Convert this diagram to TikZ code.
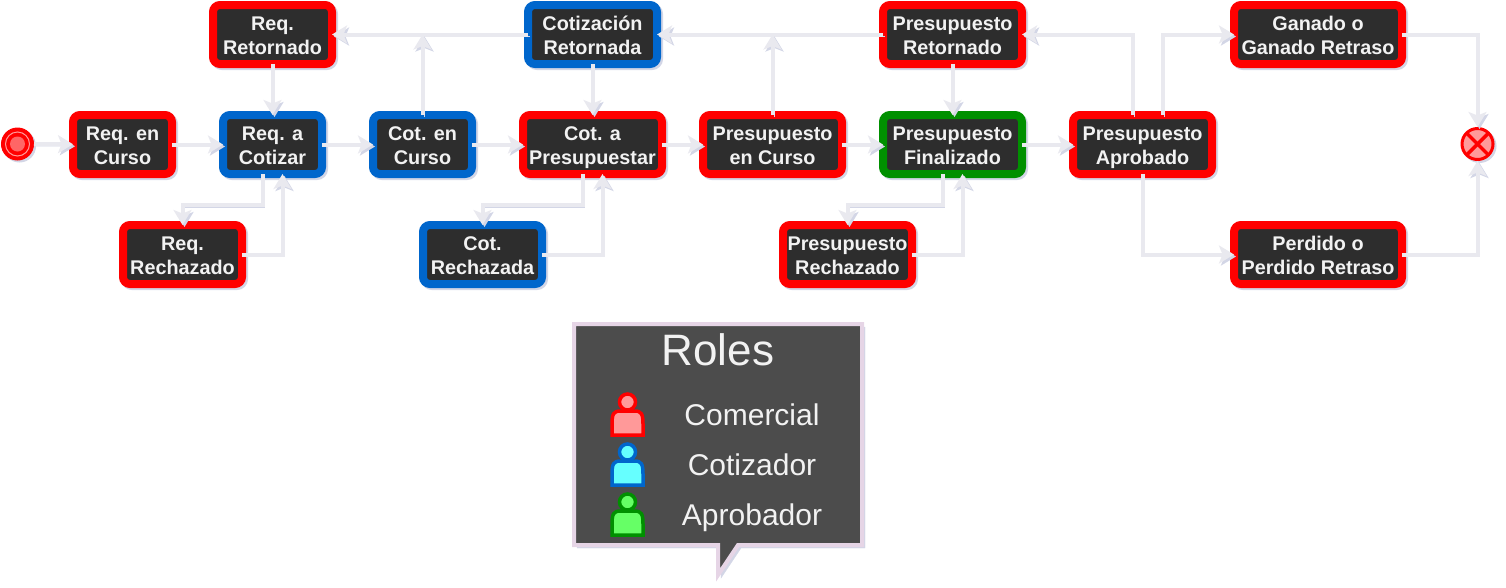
\documentclass[tikz,border=0pt]{standalone}
\usepackage{fontspec}
\setmainfont{Liberation Sans}
\usetikzlibrary{arrows.meta,shadows,calc}
\definecolor{linea}{HTML}{E9E9EF}
\definecolor{sombra}{HTML}{D3D6E6}
\definecolor{oscuro}{HTML}{2D2D2D}
\definecolor{rojo}{HTML}{FF0000}
\definecolor{azul}{HTML}{0066CC}
\definecolor{verde}{HTML}{009000}
\definecolor{rosa}{HTML}{E6D5E6}
\definecolor{rojoclaro}{HTML}{FF9999}
\definecolor{azulclaro}{HTML}{66FFFF}
\definecolor{verdeclaro}{HTML}{66FF66}
\definecolor{rojomedio}{HTML}{FF6666}
\definecolor{texto}{HTML}{F2F2F2}
\tikzset{
    estado/.style={draw=#1,fill=oscuro,line width=8pt,rounded corners=7pt,outer sep=0pt,
        inner sep=0pt,minimum height=59pt,align=center,text=texto,
        text height=39pt,text depth=0pt,
        font=\fontsize{19.8}{24}\selectfont\bfseries,
        general shadow={draw=sombra,fill=sombra,shadow xshift=2pt,shadow yshift=-2pt}},
    flecha/.style={draw=linea,line width=4pt,
        -{Stealth[length=15pt,width=18pt,inset=3.5pt]},
        preaction={draw=sombra,transform canvas={shift={(2pt,-2pt)}}}},
    rol/.style={text=texto,anchor=base,font=\fontsize{30}{36}\selectfont},
    evento/.style={circle,draw=rojo,inner sep=0pt,
        general shadow={draw=sombra,fill=sombra,shadow xshift=2pt,shadow yshift=-2pt}}
}
% figura de persona para la leyenda
\newcommand{\persona}[4]{
    \draw[#3,fill=#4,line width=3.5pt] (#1-15.5,#2+21) -- (#1-15.5,#2+10) .. controls (#1-15.5,#2) and (#1-14,#2-3) .. (#1-7,#2-3)
        -- (#1+7,#2-3) .. controls (#1+14,#2-3) and (#1+15.5,#2) .. (#1+15.5,#2+10) -- (#1+15.5,#2+21) -- cycle;
    \draw[#3,fill=#4,line width=3.5pt] (#1,#2-12) circle (8pt);
}
\begin{document}
\begin{tikzpicture}[x=1pt,y=-1pt]
    \useasboundingbox (0,0) rectangle (1506,587);

    %%%%%%%% Fila central %%%%%%%%
    \node[evento,fill=rojo,line width=1pt,minimum size=32pt] (inicio) at (17.5,144) {};
    \draw[rojoclaro,line width=1pt] (inicio) circle (12pt);
    \fill[rojomedio] (inicio) circle (7.5pt);
    \node[estado=rojo,minimum width=99pt] (reqcurso) at (122.5,144.5) {Req. en\\Curso};
    \node[estado=azul,minimum width=99pt] (reqcotizar) at (272.5,144.5) {Req. a\\Cotizar};
    \node[estado=azul,minimum width=99pt] (cotcurso) at (422.5,144.5) {Cot. en\\Curso};
    \node[estado=rojo,minimum width=139pt] (cotpresup) at (592.5,144.5) {Cot. a\\Presupuestar};
    \node[estado=rojo,minimum width=139pt] (prescurso) at (772.5,144.5) {Presupuesto\\en Curso};
    \node[estado=verde,minimum width=139pt] (presfin) at (952.5,144.5) {Presupuesto\\Finalizado};
    \node[estado=rojo,minimum width=139pt] (presapro) at (1142.5,144.5) {Presupuesto\\Aprobado};

    %%%%%%%% Fila superior %%%%%%%%
    \node[estado=rojo,minimum width=119pt] (reqret) at (272.5,34.5) {Req.\\Retornado};
    \node[estado=azul,minimum width=129pt] (cotret) at (592.5,34.5) {Cotización\\Retornada};
    \node[estado=rojo,minimum width=139pt] (presret) at (952.5,34.5) {Presupuesto\\Retornado};
    \node[estado=rojo,minimum width=168pt] (ganado) at (1318,34.5) {Ganado o\\Ganado Retraso};

    %%%%%%%% Fila inferior %%%%%%%%
    \node[estado=rojo,minimum width=119pt] (reqrech) at (182.5,254.5) {Req.\\Rechazado};
    \node[estado=azul,minimum width=119pt] (cotrech) at (482.5,254.5) {Cot.\\Rechazada};
    \node[estado=rojo,minimum width=129pt] (presrech) at (847.5,254.5) {Presupuesto\\Rechazado};
    \node[estado=rojo,minimum width=168pt] (perdido) at (1318,254.5) {Perdido o\\Perdido Retraso};

    %%%%%%%% Fin %%%%%%%%
    \node[evento,fill=rojoclaro,line width=3pt,minimum size=31pt] (fin) at (1477.5,144) {};
    \draw[rojo,line width=3.5pt] ($(fin)+(-10.5,-10.5)$) -- ($(fin)+(10.5,10.5)$);
    \draw[rojo,line width=3.5pt] ($(fin)+(-10.5,10.5)$) -- ($(fin)+(10.5,-10.5)$);

    %%%%%%%% Uniones libres %%%%%%%%
    \coordinate (juntareq) at (cotcurso.north |- cotret.west);
    \coordinate (juntacot) at (prescurso.north |- presret.west);

    %%%%%%%% Conectores %%%%%%%%
    \draw[flecha] (inicio) -- (reqcurso);
    \draw[flecha] (reqcurso) -- (reqcotizar);
    \draw[flecha] (reqcotizar) -- (cotcurso);
    \draw[flecha] (cotcurso) -- (cotpresup);
    \draw[flecha] (cotpresup) -- (prescurso);
    \draw[flecha] (prescurso) -- (presfin);
    \draw[flecha] (presfin) -- (presapro);
    \draw[flecha] (reqret) -- (reqcotizar);
    \draw[flecha] (cotret) -- (cotpresup);
    \draw[flecha] (presret) -- (presfin);
    \draw[flecha] (cotret) -- (reqret);
    \draw[flecha] (presret) -- (cotret);
    \draw[flecha] (cotcurso) -- (juntareq);
    \draw[flecha] (prescurso) -- (juntacot);

    \draw[flecha] ($(reqcotizar.south)+(-10,0)$) |- ($(reqrech.north)+(0,-20)$) -- (reqrech);
    \draw[flecha] (reqrech) -| ($(reqcotizar.south)+(10,0)$);
    \draw[flecha] ($(cotpresup.south)+(-10,0)$) |- ($(cotrech.north)+(0,-20)$) -- (cotrech);
    \draw[flecha] (cotrech) -| ($(cotpresup.south)+(10,0)$);
    \draw[flecha] ($(presfin.south)+(-10,0)$) |- ($(presrech.north)+(0,-20)$) -- (presrech);
    \draw[flecha] (presrech) -| ($(presfin.south)+(10,0)$);

    \draw[flecha] ($(presapro.north)+(-10,0)$) |- (presret);
    \draw[flecha] ($(presapro.north)+(20,0)$) |- (ganado);
    \draw[flecha] (presapro) |- (perdido);
    \draw[flecha] (ganado) -| (fin);
    \draw[flecha] (perdido) -| (fin);

    %%%%%%%% Roles %%%%%%%%
    \draw[rosa,fill=black!70,line width=4pt,line join=miter,
        general shadow={draw=sombra,fill=sombra,shadow xshift=3pt,shadow yshift=-3pt}]
        (574,324) -- (862,324) -- (862,545) -- (738,545) -- (718,575) -- (718,545) -- (574,545) -- cycle;
    \node[text=texto,anchor=base,font=\fontsize{44}{50}\selectfont] (roles) at (718,365) {Roles};
    \node[rol] (comercial) at (752,425) {Comercial};
    \node[rol] (cotizador) at (752,475) {Cotizador};
    \node[rol] (aprobador) at (752,525) {Aprobador};
    \persona{627.5}{414}{rojo}{rojoclaro}
    \persona{627.5}{464}{azul}{azulclaro}
    \persona{627.5}{514}{verde}{verdeclaro}
\end{tikzpicture}
\end{document}
